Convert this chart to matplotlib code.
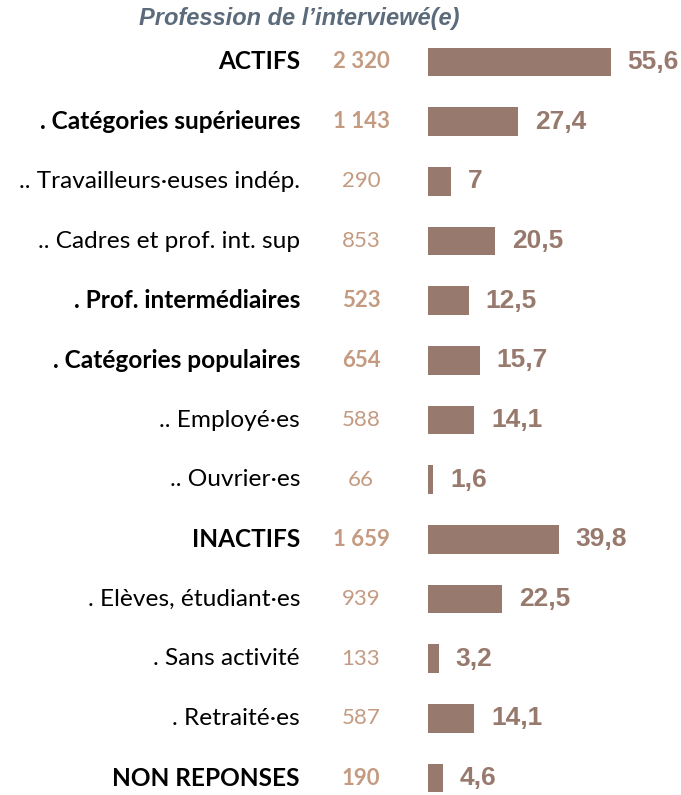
import matplotlib.pyplot as plt
import numpy as np
from matplotlib.transforms import blended_transform_factory

labels = ['ACTIFS', '. Catégories supérieures', '.. Travailleurs·euses indép.',
          '.. Cadres et prof. int. sup', '. Prof. intermédiaires', '. Catégories populaires',
          '.. Employé·es', '.. Ouvrier·es', 'INACTIFS', '. Elèves, étudiant·es',
          '. Sans activité', '. Retraité·es', 'NON REPONSES']
counts = ['2 320', '1 143', '290', '853', '523', '654', '588', '66', '1 659', '939',
          '133', '587', '190']
pcts = [55.6, 27.4, 7, 20.5, 12.5, 15.7, 14.1, 1.6, 39.8, 22.5, 3.2, 14.1, 4.6]
bold = [True, True, False, False, True, True, False, False, True, False, False, False, True]

bar_color = '#977a6d'
count_color = '#c49a80'
title_color = '#5b6b7b'

fig = plt.figure(figsize=(6.81, 7.95), dpi=100)
ax = fig.add_axes([428 / 681, 0, 253 / 681, 1])
ax.set_xlim(0, 253 / 3.29)
ax.set_ylim(12.284, -1.039)
ax.axis('off')

y = np.arange(len(labels))
ax.barh(y, pcts, height=0.48, color=bar_color)

# x in figure fraction, y in data rows
ftrans = blended_transform_factory(fig.transFigure, ax.transData)

for i in range(len(labels)):
    w = 'bold' if bold[i] else 'normal'
    ax.text(300 / 681, i, labels[i], transform=ftrans, ha='right', va='center',
            fontsize=17.6, fontweight=w, family='Lato', color='black')
    ax.text(361 / 681, i, counts[i], transform=ftrans, ha='center', va='center',
            fontsize=16, fontweight=w, family='Lato', color=count_color)
    s = ('%g' % pcts[i]).replace('.', ',')
    ax.annotate(s, (pcts[i], i), xytext=(12, 0), textcoords='offset points',
                ha='left', va='center', fontsize=19, fontweight='bold',
                family='Liberation Sans', color=bar_color)

fig.text(299 / 681, 1 - 18 / 795, 'Profession de l\u2019interviewé(e)', ha='center',
         va='center', fontsize=17, fontweight='bold', style='italic',
         family='Liberation Sans', color=title_color)

fig.savefig('out.png', dpi=100)
